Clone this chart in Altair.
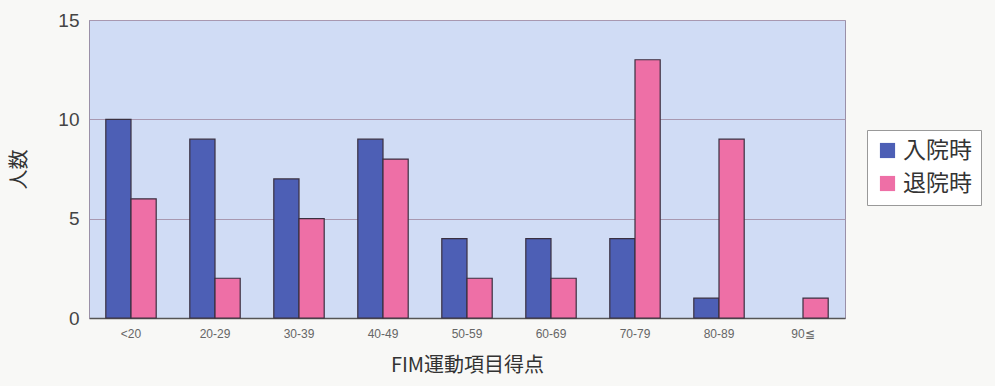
import altair as alt
import pandas as pd

# FIM motor score bins
categories = ["<20", "20-29", "30-39", "40-49", "50-59", "60-69", "70-79", "80-89", "90≦"]
admission = [10, 9, 7, 9, 4, 4, 4, 1, 0]   # 入院時
discharge = [6, 2, 5, 8, 2, 2, 13, 9, 1]   # 退院時
series = ["入院時", "退院時"]
colors = ["#4d5fb5", "#ee6fa6"]

rows = []
for c, a, d in zip(categories, admission, discharge):
    rows.append({"score": c, "group": series[0], "count": a})
    rows.append({"score": c, "group": series[1], "count": d})
df = pd.DataFrame(rows)

jp_font = "Noto Sans CJK JP"
num_font = "Liberation Sans"

chart = (
    alt.Chart(df)
    .mark_bar(stroke="#3a3040", strokeWidth=1.2)
    .encode(
        x=alt.X(
            "score:N",
            sort=categories,
            scale=alt.Scale(paddingInner=0.4, paddingOuter=0.2),
            axis=alt.Axis(
                title="FIM運動項目得点",
                titleFont=jp_font,
                titleFontSize=20,
                titleFontWeight="normal",
                titleColor="#333333",
                titlePadding=16,
                labelFont=num_font,
                labelFontSize=12,
                labelColor="#666666",
                labelAngle=0,
                labelPadding=10,
                ticks=False,
                domainColor="#555555",
                domainWidth=1.5,
            ),
        ),
        xOffset=alt.XOffset("group:N", sort=series, scale=alt.Scale(paddingInner=0, paddingOuter=0)),
        y=alt.Y(
            "count:Q",
            scale=alt.Scale(domain=[0, 15], nice=False),
            axis=alt.Axis(
                title="人数",
                titleFont=jp_font,
                titleFontSize=20,
                titleFontWeight="normal",
                titleColor="#333333",
                titlePadding=28,
                values=[0, 5, 10, 15],
                labelFont=num_font,
                labelFontSize=19,
                labelColor="#444444",
                labelPadding=10,
                ticks=False,
                grid=True,
                gridColor="#a898b0",
                gridWidth=1,
                domainColor="#9a90a8",
            ),
        ),
        color=alt.Color(
            "group:N",
            sort=series,
            scale=alt.Scale(domain=series, range=colors),
            legend=alt.Legend(
                title=None,
                orient="none",
                legendX=778,
                legendY=110,
                symbolType="square",
                symbolSize=230,
                symbolStrokeWidth=0,
                labelFont=jp_font,
                labelFontSize=23,
                labelColor="#333333",
                labelOffset=4,
                rowPadding=9,
                padding=9,
                strokeColor="#999999",
                fillColor="#ffffff",
            ),
        ),
    )
    .transform_filter(alt.datum.count > 0)
    .properties(width=756, height=298)
    .configure(
        background="#f8f8f6",
        padding={"left": 89, "top": 20, "right": 150, "bottom": 68},
        autosize="none",
        view=alt.ViewConfig(fill="#d0dcf5", stroke="#9a90a8", strokeWidth=1),
    )
)

chart.save("out.html", embed_options={"renderer": "svg", "actions": False})
